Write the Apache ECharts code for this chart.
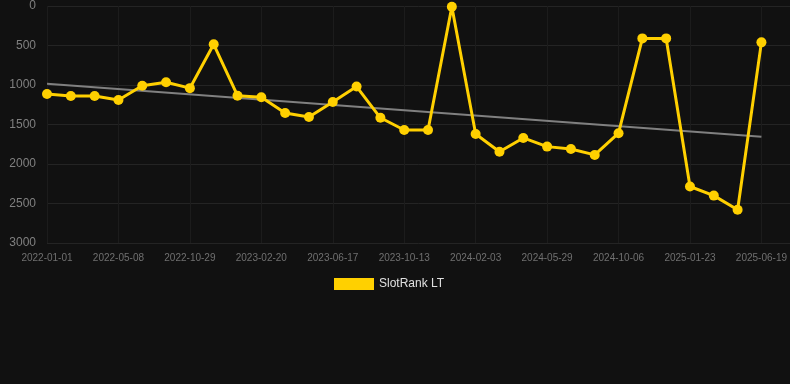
<!DOCTYPE html>
<html>
<head>
<meta charset="utf-8">
<script src="https://cdn.jsdelivr.net/npm/echarts@6/dist/echarts.min.js"></script>
<style>
  html, body { margin: 0; padding: 0; background: #111111; }
  #chart { width: 790px; height: 384px; }
</style>
</head>
<body>
<div id="chart"></div>
<script>
// dates on the x axis (one per point, only every third is labelled)
var dates = [
  '2022-01-01', '2022-02-12', '2022-03-26', '2022-05-08', '2022-06-25', '2022-08-12',
  '2022-10-29', '2022-12-08', '2023-01-14', '2023-02-20', '2023-03-29', '2023-05-10',
  '2023-06-17', '2023-07-28', '2023-09-02', '2023-10-13', '2023-11-20', '2023-12-28',
  '2024-02-03', '2024-03-12', '2024-04-20', '2024-05-29', '2024-07-08', '2024-08-25',
  '2024-10-06', '2024-11-14', '2024-12-20', '2025-01-23', '2025-03-05', '2025-05-08',
  '2025-06-19'
];

// rank values (lower = better, axis is inverted)
var rankLT = [
  1115, 1140, 1140, 1190, 1010, 965, 1040, 485, 1135, 1155, 1355,
  1405, 1215, 1020, 1415, 1570, 1570, 10, 1620, 1845, 1670, 1780,
  1810, 1885, 1610, 410, 410, 2285, 2400, 2580, 460
];

// trend line: value at first and last date
var trendEnds = [983, 1655];

var chart = echarts.init(document.getElementById('chart'));

var trendData = [
  [dates[0], trendEnds[0]],
  [dates[dates.length - 1], trendEnds[1]]
];

var font = 'Liberation Sans, Arial, sans-serif';

chart.setOption({
  backgroundColor: '#111111',
  animation: false,
  grid: [
    // full-width grid, only for the horizontal lines
    { left: 47, right: 0, top: 6, bottom: 141 },
    // data grid
    { left: 47, right: 28, top: 6, bottom: 141 }
  ],
  legend: {
    bottom: 94,
    left: 334,
    padding: 0,
    icon: 'rect',
    itemWidth: 40,
    itemHeight: 12,
    itemGap: 6,
    data: ['SlotRank LT'],
    textStyle: { color: '#e0e0e0', fontSize: 12, fontFamily: font }
  },
  xAxis: [
    { type: 'value', gridIndex: 0, show: false, min: 0, max: 1 },
    {
      type: 'category',
      gridIndex: 1,
      boundaryGap: false,
      data: dates,
      axisLine: { show: false },
      axisTick: { show: false },
      axisLabel: {
        interval: 2,
        color: '#707070',
        fontSize: 10,
        margin: 10,
        fontFamily: font
      },
      splitLine: { show: true, interval: 2, lineStyle: { color: '#1c1c1c', width: 1 } }
    }
  ],
  yAxis: [
    {
      type: 'value',
      gridIndex: 0,
      inverse: true,
      min: 0,
      max: 3000,
      interval: 500,
      axisLine: { show: false },
      axisTick: { show: false },
      axisLabel: { show: false },
      splitLine: { lineStyle: { color: '#242424', width: 1 } }
    },
    {
      type: 'value',
      gridIndex: 1,
      inverse: true,
      min: 0,
      max: 3000,
      interval: 500,
      axisLine: { show: false },
      axisTick: { show: false },
      axisLabel: {
        color: '#808080',
        fontSize: 12,
        margin: 11,
        fontFamily: font,
        formatter: function (v) { return String(v); }
      },
      splitLine: { show: false }
    }
  ],
  series: [
    {
      name: 'SlotRank LT',
      type: 'line',
      xAxisIndex: 1,
      yAxisIndex: 1,
      data: rankLT,
      symbol: 'circle',
      symbolSize: 10,
      itemStyle: { color: '#ffd000' },
      lineStyle: { color: '#ffd000', width: 3 },
      z: 3
    },
    {
      name: 'trend',
      type: 'line',
      xAxisIndex: 1,
      yAxisIndex: 1,
      data: trendData,
      symbol: 'none',
      lineStyle: { color: '#808080', width: 2 },
      silent: true,
      z: 2
    }
  ]
});
</script>
</body>
</html>
